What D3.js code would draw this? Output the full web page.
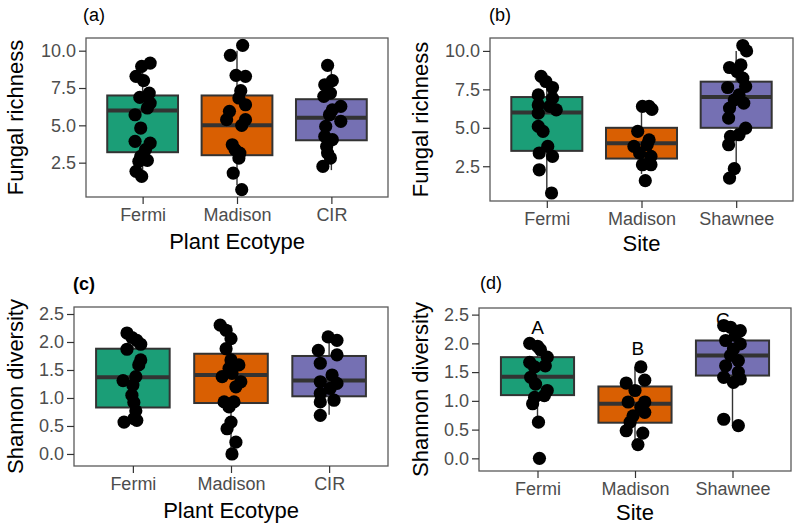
<!DOCTYPE html>
<html>
<head>
<meta charset="utf-8">
<script src="https://cdn.jsdelivr.net/npm/d3@7"></script>
<style>
  html, body { margin: 0; padding: 0; background: #fff; }
  svg { display: block; font-family: "Liberation Sans", Arial, sans-serif; }
</style>
</head>
<body>
<svg id="chart" width="800" height="525"></svg>
<script>
// ---------------- data ----------------
const ecotypes = ["Fermi", "Madison", "CIR"];
const sites = ["Fermi", "Madison", "Shawnee"];
const fillColors = ["#1B9E77", "#D95F02", "#7570B3"];
const richTicks = [2.5, 5.0, 7.5, 10.0];
const shanTicks = [0.0, 0.5, 1.0, 1.5, 2.0, 2.5];
const richDomain = [0.2, 10.85];
const shanDomain = [-0.215, 2.625];
const sigLetters = ["A", "B", "C"];
const sigLetterY = [2.17, 1.79, 2.31];
const sigLetterJit = [0.0, 0.03, -0.1];

// box stats: [lower whisker, q1, median, q3, upper whisker]
const boxRichEco = [[2.0, 3.2, 6.0, 7.0, 9.0], [1.0, 3.0, 5.0, 7.0, 10.0], [2.0, 4.0, 5.5, 6.75, 9.0]];
const boxRichSite = [[1.0, 3.5, 6.0, 7.0, 8.0], [2.0, 3.0, 4.0, 5.0, 6.0], [2.0, 5.0, 7.0, 8.0, 10.0]];
const boxShanEco = [[0.55, 0.83, 1.37, 1.88, 2.16], [0.0, 0.91, 1.41, 1.79, 2.3], [0.7, 1.03, 1.31, 1.75, 2.1]];
const boxShanSite = [[0.63, 1.10, 1.42, 1.76, 2.0], [0.24, 0.62, 0.95, 1.25, 1.59], [0.57, 1.44, 1.79, 2.05, 2.31]];

// points: [jitter (category units), value]
const richEcoFermi = [[0.08,9.17],[-0.01,8.95],[-0.07,8.28],[0.01,7.99],[0.07,7.16],[-0.03,6.87],[0.08,6.49],[0.05,6.16],[-0.08,5.71],[-0.02,4.82],[-0.08,3.93],[0.08,3.81],[0.03,3.37],[-0.02,2.92],[-0.04,2.59],[0.05,2.65],[-0.07,1.92],[-0.01,1.58]];
const richEcoMadison = [[0.06,10.36],[-0.07,9.69],[-0.01,8.35],[0.09,8.28],[0.04,7.32],[0.02,6.83],[0.09,6.38],[-0.08,5.94],[-0.11,5.38],[0.09,5.38],[0.05,5.0],[-0.05,3.7],[-0.02,3.37],[0.03,3.14],[0.02,2.81],[-0.04,1.8],[0.05,0.69]];
const richEcoCIR = [[-0.04,9.02],[0.01,7.99],[-0.07,7.72],[-0.01,7.16],[-0.08,6.94],[0.10,6.27],[0.01,6.04],[-0.02,5.71],[0.10,5.27],[-0.06,4.93],[-0.07,4.26],[0.01,4.04],[-0.05,3.59],[-0.04,3.14],[-0.01,2.81],[-0.09,2.25]];

const richSiteFermi = [[-0.06,8.34],[-0.01,8.01],[0.06,7.62],[-0.09,7.14],[0.06,6.93],[-0.09,6.49],[0.03,6.39],[0.10,6.17],[-0.09,5.95],[-0.09,5.09],[-0.04,4.77],[0.01,3.79],[-0.08,3.36],[0.06,3.14],[-0.08,2.27],[0.05,0.76]];
const richSiteMadison = [[0.01,6.39],[0.08,6.39],[0.11,6.2],[-0.04,4.77],[0.08,4.22],[-0.08,3.79],[0.06,3.9],[-0.02,3.36],[0.10,3.14],[0.10,2.6],[0.01,2.6],[0.04,1.56]];
const richSiteShawnee = [[0.07,10.35],[0.11,10.0],[-0.07,8.92],[0.05,9.09],[0.01,8.66],[0.07,8.23],[-0.09,7.62],[0.10,7.69],[0.03,7.14],[-0.02,6.82],[0.08,6.60],[-0.07,6.28],[-0.08,5.63],[0.10,4.98],[0.03,4.55],[-0.06,4.44],[-0.08,3.9],[-0.02,2.34],[-0.07,1.73]];

const shanEcoFermi = [[-0.06,2.16],[-0.01,2.08],[0.04,2.03],[0.08,1.96],[-0.06,1.87],[0.08,1.68],[0.06,1.59],[0.03,1.38],[-0.10,1.31],[0.00,1.23],[-0.01,1.05],[0.01,0.92],[0.03,0.77],[0.01,0.63],[-0.09,0.57],[0.04,0.60]];
const shanEcoMadison = [[-0.11,2.30],[-0.05,2.21],[0.00,2.06],[-0.05,1.88],[0.00,1.68],[0.08,1.59],[-0.02,1.53],[0.01,1.44],[-0.09,1.38],[0.10,1.29],[0.05,1.20],[-0.07,0.93],[0.03,0.93],[-0.02,0.84],[0.00,0.57],[-0.04,0.45],[0.05,0.21],[0.01,0.0]];
const shanEcoCIR = [[-0.01,2.09],[0.08,2.03],[-0.11,1.85],[0.08,1.77],[-0.09,1.62],[0.03,1.41],[-0.09,1.29],[0.08,1.26],[0.01,1.17],[-0.09,1.08],[0.05,0.96],[-0.09,0.93],[-0.09,0.69]];

const shanSiteFermi = [[-0.08,2.0],[0.00,1.95],[0.03,1.89],[0.10,1.76],[-0.08,1.67],[0.08,1.61],[-0.03,1.59],[-0.07,1.41],[-0.02,1.29],[0.10,1.18],[0.07,1.09],[-0.03,1.06],[-0.05,0.95],[0.01,0.63],[0.02,0.0]];
const shanSiteMadison = [[0.06,1.59],[-0.09,1.31],[0.10,1.36],[0.00,1.18],[-0.07,0.98],[0.10,0.98],[0.06,0.89],[0.10,0.80],[-0.02,0.74],[-0.05,0.63],[-0.09,0.48],[0.08,0.44],[0.03,0.24]];
const shanSiteShawnee = [[-0.09,2.31],[-0.02,2.28],[0.08,2.22],[0.03,2.14],[-0.07,2.05],[0.08,1.99],[0.01,1.90],[-0.02,1.79],[0.06,1.70],[-0.07,1.61],[0.06,1.50],[-0.09,1.41],[0.08,1.38],[0.01,1.32],[-0.09,0.68],[0.06,0.57]];

// ---------------- drawing ----------------
const svg = d3.select("#chart");
const fmt = d3.format(".1f");

function drawPanel(o) {
  const x = d3.scalePoint().domain(o.cats).range([o.left, o.right]).padding(0.6);
  const y = d3.scaleLinear().domain(o.domain).range([o.bottom, o.top]);
  const step = x.step();
  const bw = step * 0.75;
  const g = svg.append("g");

  // boxes
  o.boxes.forEach((b, i) => {
    const cx = x(o.cats[i]);
    g.append("line").attr("x1", cx).attr("x2", cx).attr("y1", y(b[0])).attr("y2", y(b[1]))
      .attr("stroke", "#333").attr("stroke-width", 1.4);
    g.append("line").attr("x1", cx).attr("x2", cx).attr("y1", y(b[3])).attr("y2", y(b[4]))
      .attr("stroke", "#333").attr("stroke-width", 1.4);
    g.append("rect").attr("x", cx - bw / 2).attr("width", bw)
      .attr("y", y(b[3])).attr("height", y(b[1]) - y(b[3]))
      .attr("fill", fillColors[i]).attr("stroke", "#333").attr("stroke-width", 2);
    g.append("line").attr("x1", cx - bw / 2).attr("x2", cx + bw / 2)
      .attr("y1", y(b[2])).attr("y2", y(b[2]))
      .attr("stroke", "#333").attr("stroke-width", 4);
  });

  // points
  o.points.forEach((pts, i) => {
    g.selectAll(null).data(pts).enter().append("circle")
      .attr("cx", d => x(o.cats[i]) + d[0] * step)
      .attr("cy", d => y(d[1]))
      .attr("r", 6.6)
      .attr("fill", "#000");
  });

  // panel border
  g.append("rect").attr("x", o.left).attr("y", o.top)
    .attr("width", o.right - o.left).attr("height", o.bottom - o.top)
    .attr("fill", "none").attr("stroke", "#5a5a5a").attr("stroke-width", 1.3);

  // axes
  const ya = d3.axisLeft(y).tickValues(o.ticks).tickFormat(fmt).tickSize(7).tickPadding(3);
  const ga = g.append("g").attr("transform", `translate(${o.left},0)`).call(ya);
  const xa = d3.axisBottom(x).tickSize(7).tickPadding(4);
  const gx = g.append("g").attr("transform", `translate(0,${o.bottom})`).call(xa);
  [ga, gx].forEach(a => {
    a.select(".domain").remove();
    a.selectAll(".tick line").attr("stroke", "#333").attr("stroke-width", 1.2);
    a.selectAll(".tick text").attr("fill", "#4d4d4d")
      .style("font-size", "18px").style("font-family", '"Liberation Sans", Arial, sans-serif');
  });

  // titles
  g.append("text").attr("x", (o.left + o.right) / 2).attr("y", o.bottom + o.xTitleGap)
    .attr("text-anchor", "middle").style("font-size", "22px").attr("fill", "#000").text(o.xTitle);
  g.append("text").attr("transform", `translate(${o.yTitleX},${(o.top + o.bottom) / 2}) rotate(-90)`)
    .attr("text-anchor", "middle").style("font-size", "22px").attr("fill", "#000").text(o.yTitle);
  g.append("text").attr("x", o.tagX).attr("y", o.tagY)
    .style("font-size", "18px").style("font-weight", o.tagBold ? "bold" : "normal")
    .attr("fill", "#000").text(o.tag);

  if (o.letters) {
    o.letters.forEach((L, i) => {
      g.append("text").attr("x", x(o.cats[i]) + sigLetterJit[i] * step).attr("y", y(sigLetterY[i]))
        .attr("text-anchor", "middle").style("font-size", "19px").attr("fill", "#000").text(L);
    });
    g.selectAll("circle").raise();
  }
}

drawPanel({
  cats: ecotypes, left: 86, right: 388, top: 38, bottom: 197, domain: richDomain, ticks: richTicks,
  boxes: boxRichEco, points: [richEcoFermi, richEcoMadison, richEcoCIR], xTitleGap: 51.5,
  xTitle: "Plant Ecotype", yTitle: "Fungal richness", yTitleX: 23, tag: "(a)", tagX: 83, tagY: 21
});
drawPanel({
  cats: sites, left: 490, right: 793, top: 38, bottom: 201, domain: [0.24, 10.84], ticks: richTicks,
  boxes: boxRichSite, points: [richSiteFermi, richSiteMadison, richSiteShawnee], xTitleGap: 49.5,
  xTitle: "Site", yTitle: "Fungal richness", yTitleX: 427.5, tag: "(b)", tagX: 489, tagY: 21
});
drawPanel({
  cats: ecotypes, left: 74, right: 388, top: 307, bottom: 466, domain: shanDomain, ticks: shanTicks,
  boxes: boxShanEco, points: [shanEcoFermi, shanEcoMadison, shanEcoCIR], xTitleGap: 51.5,
  xTitle: "Plant Ecotype", yTitle: "Shannon diversity", yTitleX: 22.5, tag: "(c)", tagX: 73, tagY: 290, tagBold: true
});
drawPanel({
  cats: sites, left: 479, right: 791, top: 308, bottom: 471, domain: [-0.22, 2.615], ticks: shanTicks,
  boxes: boxShanSite, points: [shanSiteFermi, shanSiteMadison, shanSiteShawnee], xTitleGap: 48.5,
  xTitle: "Site", yTitle: "Shannon diversity", yTitleX: 427.5, tag: "(d)", tagX: 480, tagY: 289,
  letters: sigLetters
});
</script>
</body>
</html>
